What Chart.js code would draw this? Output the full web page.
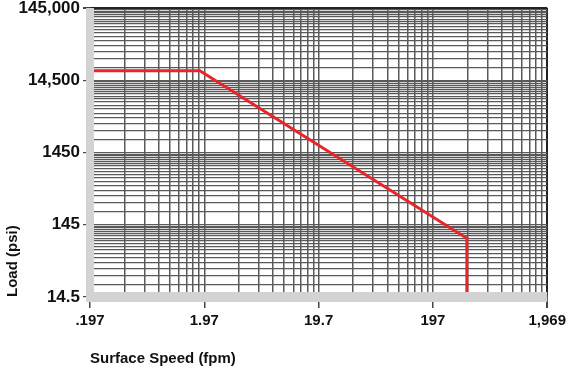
<!DOCTYPE html>
<html lang="en">
<head>
  <meta charset="UTF-8" />
  <title>Load vs Surface Speed</title>
  <script src="https://cdn.jsdelivr.net/npm/chart.js"></script>
<style>
  html, body {
    margin: 0;
    padding: 0;
    background: #ffffff;
    overflow: hidden;
  }
  .container {
    width: 570px;
    height: 373px;
  }
</style>
</head>
<body>
  <div class="container">
    <canvas id="grafico"></canvas>
  </div>

  <script>
    // limit curve
    const speedFpm = [0.197, 1.8, 390, 390];
    const loadPsi = [19600, 19600, 94, 14.5];

    // axis decades and their printed labels
    const xTickValues = [0.197, 1.97, 19.7, 197, 1969];
    const xTickLabels = ['.197', '1.97', '19.7', '197', '1,969'];
    const yTickValues = [14.5, 145, 1450, 14500, 145000];
    const yTickLabels = ['14.5', '145', '1450', '14,500', '145,000'];

    // minor grid steps inside one decade
    const xMinorSteps = [2, 3, 4, 5, 6, 7, 8, 9];
    const yMinorSteps = [1.5, 2, 2.5, 3, 3.5, 4, 4.5, 5, 5.5, 6, 6.5, 7, 7.5, 8, 8.5, 9, 9.5];

    function logTicks(majors, steps) {
      const out = [];
      majors.forEach((v, i) => {
        out.push({ value: v, major: true });
        if (i < majors.length - 1) {
          steps.forEach(k => out.push({ value: v * k, major: false }));
        }
      });
      return out;
    }

    function labelFor(values, labels) {
      return function(value) {
        const i = values.findIndex(v => Math.abs(v - value) / v < 1e-6);
        return i >= 0 ? labels[i] : '';
      };
    }

    // thick light grey bars along the left and bottom axes
    const axisBars = {
      id: 'axisBars',
      afterDatasetsDraw(chart) {
        const { ctx, chartArea: a } = chart;
        ctx.save();
        ctx.fillStyle = '#d3d3d3';
        ctx.fillRect(a.left - 4, a.top, 8, a.bottom - a.top + 5);
        ctx.fillRect(a.left - 4, a.bottom - 5, a.right - a.left + 4, 10);
        ctx.restore();
      }
    };

    const family = "'Liberation Sans', Arial, sans-serif";
    const xFont = { family: family, size: 15, weight: 'bold' };
    const yFont = { family: family, size: 17, weight: 'bold' };

    const ctx = document.getElementById('grafico').getContext('2d');
    const chart = new Chart(ctx, {
      type: 'line',
      data: {
        datasets: [{
          label: 'Limit',
          data: speedFpm.map((s, i) => ({ x: s, y: loadPsi[i] })),
          borderColor: '#e8252b',
          borderWidth: 3,
          pointRadius: 0,
          tension: 0
        }]
      },
      plugins: [axisBars],
      options: {
        responsive: true,
        maintainAspectRatio: false,
        animation: false,
        layout: { padding: { left: 0, right: 22, top: 0, bottom: 0 } },
        plugins: {
          legend: { display: false },
          tooltip: { enabled: false }
        },
        scales: {
          x: {
            type: 'logarithmic',
            min: 0.197,
            max: 1969,
            afterBuildTicks: s => { s.ticks = logTicks(xTickValues, xMinorSteps); },
            afterFit: s => { s.height = 76; },
            grid: {
              color: c => (c.tick && c.tick.value >= 1969 ? '#222' : '#5a5a5a'),
              lineWidth: c => (c.tick && c.tick.value >= 1969 ? 2 : 1.5),
              tickLength: 11,
              tickColor: c => (c.tick && c.tick.major ? '#444' : 'rgba(0,0,0,0)')
            },
            border: { display: false },
            ticks: {
              autoSkip: false,
              maxRotation: 0,
              padding: 4,
              color: '#111',
              font: xFont,
              callback: labelFor(xTickValues, xTickLabels)
            },
            title: {
              display: true,
              text: 'Surface Speed (fpm)',
              align: 'start',
              color: '#111',
              font: xFont,
              padding: { top: 0, bottom: 5 }
            }
          },
          y: {
            type: 'logarithmic',
            min: 14.5,
            max: 145000,
            afterBuildTicks: s => { s.ticks = logTicks(yTickValues, yMinorSteps); },
            afterFit: s => { s.width = 90; s.paddingTop = 8; },
            grid: {
              color: c => (c.tick && c.tick.value >= 145000 ? '#222' : '#5a5a5a'),
              lineWidth: c => (c.tick && c.tick.value >= 145000 ? 2 : 1.2),
              tickLength: 7,
              tickColor: c => (c.tick && c.tick.major ? '#444' : 'rgba(0,0,0,0)')
            },
            border: { display: false },
            ticks: {
              autoSkip: false,
              padding: 3,
              color: '#111',
              font: yFont,
              callback: labelFor(yTickValues, yTickLabels)
            },
            title: {
              display: true,
              text: 'Load (psi)',
              align: 'start',
              color: '#111',
              font: xFont,
              padding: { top: 4, bottom: 0 }
            }
          }
        }
      }
    });
  </script>
</body>
</html>
